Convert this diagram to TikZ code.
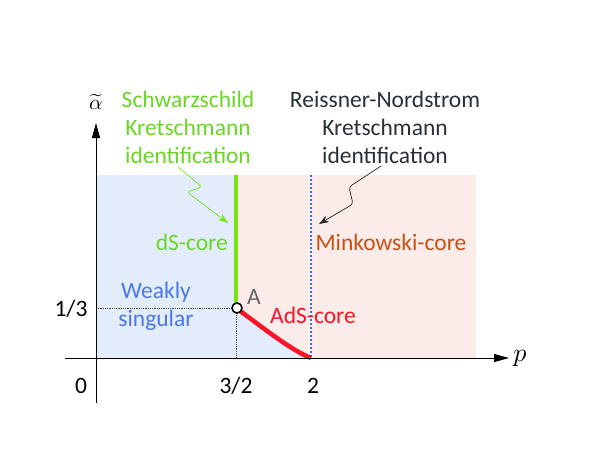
\documentclass[tikz,border=0pt]{standalone}
\usepackage{fontspec}
\setmainfont{Carlito}
\usetikzlibrary{arrows.meta}
\definecolor{gtext}{RGB}{105,215,35}
\definecolor{gline}{RGB}{120,228,20}
\definecolor{bluefill}{RGB}{227,236,250}
\definecolor{pinkfill}{RGB}{251,235,233}
\definecolor{bdot}{RGB}{60,105,240}
\definecolor{btext}{RGB}{75,120,240}
\definecolor{otext}{RGB}{200,80,20}
\definecolor{rline}{RGB}{250,20,40}
\definecolor{dtext}{RGB}{40,50,50}
\definecolor{atext}{RGB}{100,100,100}
\tikzset{
  lbl/.style={font=\fontsize{23.5}{28}\selectfont, align=center, inner sep=0pt},
  axis/.style={line width=1pt, black},
  guide/.style={line width=0.8pt, densely dotted, black!70},
  pointer/.style={line width=0.7pt, rounded corners=3pt}
}
\begin{document}
\begin{tikzpicture}[x=1pt,y=-1pt]
\useasboundingbox (0,0) rectangle (599,450);
% regions
\fill[pinkfill] (236,175) rectangle (476,358);
\fill[bluefill] (96,175) -- (236,175) -- (236,308) .. controls (257,323) and (290,350) .. (311,358) -- (96,358) -- cycle;
% guides
\draw[guide] (96,308) -- (236,308);
\draw[guide] (236,308) -- (236,358);
\draw[bdot, line width=1.8pt, dash pattern=on 1.6pt off 2.4pt] (311,175) -- (311,358);
% phase boundaries
\draw[gline, line width=4.5pt] (236,175) -- (236,303);
\draw[rline, line width=4.5pt] (236,308) .. controls (257,323) and (290,350) .. (311,358);
% axes
\draw[axis, -{Triangle[length=15pt,width=8pt]}] (65,358) -- (509,358);
\draw[axis, -{Triangle[length=15pt,width=8pt]}] (96,403) -- (96,123);
\node[inner sep=0pt, scale=2.6] (plab) at (520,358) {$p$};
\node[inner sep=0pt, scale=2.1] (alab) at (96,102) {$\widetilde{\alpha}$};
% point A
\node[circle, draw=black, fill=white, line width=1.5pt, minimum size=10pt, inner sep=0pt] (A) at (237,308) {};
\node[lbl, text=atext] (Alab) at (254,297) {A};
% tick labels
\node[lbl] (t0) at (81,386) {0};
\node[lbl] (t32) at (236,386) {3/2};
\node[lbl] (t2) at (313,386) {2};
\node[lbl] (t13) at (71,309) {1/3};
% region labels
\node[lbl, text=gtext] (sch) at (188,127) {Schwarzschild\\Kretschmann\\identification};
\node[lbl, text=dtext] (rn) at (385,127) {Reissner-Nordstrom\\Kretschmann\\identification};
\node[lbl, text=gtext, anchor=east] (ds) at (228,242) {dS-core};
\node[lbl, text=otext] (mk) at (391,242) {Minkowski-core};
\node[lbl, text=btext] (ws) at (156,306) {Weakly\\singular};
\node[lbl, text=rline] (ads) at (313,315) {AdS-core};
% pointers
\coordinate (gs) at (178,167);
\coordinate (ge) at (228,223);
\coordinate (bs) at (381,166);
\coordinate (be) at (319,224);
\draw[pointer, gline, -{Stealth[length=10pt,width=7pt]}] (gs) -- (202,187) -- (187,192) -- (ge);
\draw[pointer, black!85, -{Stealth[length=10pt,width=7pt]}] (bs) -- (349,187) -- (353,204) -- (be);
\end{tikzpicture}
\end{document}
